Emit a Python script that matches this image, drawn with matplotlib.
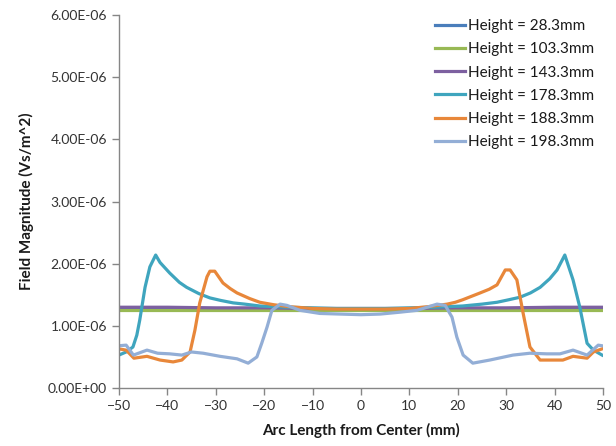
import matplotlib
matplotlib.use("Agg")
import matplotlib.pyplot as plt

plt.rcParams['font.family'] = ['Lato', 'DejaVu Sans']

labels = ["Height = 28.3mm", "Height = 103.3mm", "Height = 143.3mm",
          "Height = 178.3mm", "Height = 188.3mm", "Height = 198.3mm"]
colors = ["#4A7EBB", "#98B954", "#7D60A0", "#3FA5BE", "#E8873A", "#93AED6"]

# Flat series
x_flat = [-50, -40, -30, -20, -10, 0, 10, 20, 30, 40, 50]
h28 = [1.27, 1.27, 1.27, 1.27, 1.27, 1.27, 1.27, 1.27, 1.27, 1.27, 1.27]
h103 = [1.25, 1.25, 1.25, 1.25, 1.25, 1.25, 1.25, 1.25, 1.25, 1.25, 1.25]
h143 = [1.30, 1.30, 1.29, 1.29, 1.28, 1.28, 1.28, 1.29, 1.29, 1.30, 1.30]

# Height = 178.3mm
x178 = [-50, -48.5, -47.1, -46.3, -45.7, -44.6, -43.6, -42.4, -41.5, -39.5, -37.5, -36,
        -33.5, -31.2, -29, -26.4, -24, -20.9, -15, -10, -5, 0, 5, 10, 15, 21, 25,
        28.1, 30.5, 32.8, 35, 37, 39, 40.5, 42.1, 43.8, 45.2, 46.7, 48, 49.8]
h178 = [0.53, 0.58, 0.66, 0.85, 1.09, 1.62, 1.95, 2.14, 2.02, 1.85, 1.70, 1.62,
        1.52, 1.45, 1.41, 1.37, 1.35, 1.32, 1.30, 1.29, 1.28, 1.28, 1.28, 1.29, 1.30, 1.32,
        1.35, 1.38, 1.42, 1.46, 1.53, 1.62, 1.76, 1.90, 2.14, 1.74, 1.30, 0.72, 0.61, 0.53]

# Height = 188.3mm
x188 = [-50, -48.5, -46.9, -44.2, -41.5, -38.8, -37, -35.3, -34.3, -33.3, -31.8, -31.2,
        -30.2, -28.5, -27, -25.6, -23, -20.9, -18, -15, -10, -5, 0, 5, 10, 14, 17.8,
        19.5, 21, 24.6, 26.5, 28.1, 29.8, 30.8, 32.2, 33.5, 34.9, 37, 41.7, 43.8,
        46.7, 48, 49.8]
h188 = [0.63, 0.61, 0.48, 0.51, 0.45, 0.42, 0.45, 0.58, 0.93, 1.37, 1.79, 1.88,
        1.88, 1.69, 1.60, 1.53, 1.44, 1.38, 1.34, 1.31, 1.28, 1.27, 1.27, 1.27, 1.28,
        1.31, 1.35, 1.38, 1.42, 1.53, 1.59, 1.66, 1.90, 1.90, 1.74, 1.20, 0.66, 0.45,
        0.45, 0.51, 0.48, 0.58, 0.63]

# Height = 198.3mm
x198 = [-50, -48.5, -47, -44.2, -42, -39.5, -37, -35, -32.6, -29.1, -25.6, -23.3,
        -21.5, -20.5, -19.4, -18.4, -16.7, -15.3, -12.6, -8.5, -4.3, 0, 4, 8, 11.6,
        15.7, 17.4, 18.8, 19.8, 21.1, 23.1, 26.6, 31.4, 34.9, 38.4, 41.1, 43.8,
        46.7, 49, 49.8]
h198 = [0.68, 0.69, 0.53, 0.61, 0.56, 0.55, 0.53, 0.58, 0.56, 0.51, 0.47, 0.40,
        0.50, 0.72, 0.98, 1.25, 1.35, 1.33, 1.25, 1.20, 1.19, 1.18, 1.19, 1.22, 1.25,
        1.35, 1.33, 1.14, 0.82, 0.53, 0.40, 0.45, 0.53, 0.56, 0.55, 0.55, 0.61,
        0.53, 0.69, 0.68]

series = [(x_flat, h28), (x_flat, h103), (x_flat, h143),
          (x178, h178), (x188, h188), (x198, h198)]

fig = plt.figure(figsize=(6.16, 4.46), dpi=100)
ax = fig.add_axes([0.193, 0.130, 0.786, 0.836])

for (xs, ys), lab, c in zip(series, labels, colors):
    ax.plot(xs, [v * 1e-6 for v in ys], color=c, lw=2.3, label=lab,
            solid_joinstyle="round")

ax.set_xlim(-50, 50)
ax.set_ylim(0, 6e-6)
ax.set_xticks(range(-50, 51, 10))
yt = [i * 1e-6 for i in range(7)]
ax.set_yticks(yt)
ax.set_yticklabels(["%.2fE-06" % i if i > 0 else "0.00E+00" for i in range(7)])

for s in ["top", "right"]:
    ax.spines[s].set_visible(False)
for s in ["left", "bottom"]:
    ax.spines[s].set_color("#868686")
    ax.spines[s].set_linewidth(1.0)
ax.tick_params(axis="both", colors="#868686", labelcolor="#333333",
               labelsize=10, length=5, width=1.0)

ax.set_xlabel("Arc Length from Center (mm)", fontsize=11, fontweight="bold",
              color="#1a1a1a", labelpad=8)
ax.set_ylabel("Field Magnitude (Vs/m^2)", fontsize=11, fontweight="bold",
              color="#1a1a1a", labelpad=10)

leg = ax.legend(loc="upper left", bbox_to_anchor=(0.653, 0.989), frameon=False,
                fontsize=11, handlelength=1.95, handletextpad=0.2,
                labelspacing=0.6, borderaxespad=0.0, borderpad=0.0)
for t in leg.get_texts():
    t.set_color("#1a1a1a")

fig.savefig("out.png", dpi=100)
